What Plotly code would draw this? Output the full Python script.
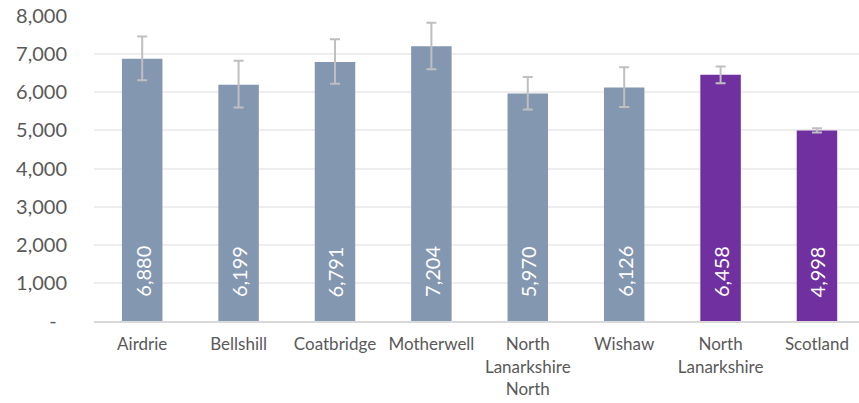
import plotly.graph_objects as go

categories = ["Airdrie", "Bellshill", "Coatbridge", "Motherwell",
              "North<br>Lanarkshire<br>North", "Wishaw", "North<br>Lanarkshire", "Scotland"]
values = [6880, 6199, 6791, 7204, 5970, 6126, 6458, 4998]
err_plus = [585, 630, 600, 620, 430, 530, 220, 55]
err_minus = [565, 600, 570, 600, 420, 510, 225, 55]
colors = ["#8497B0"] * 6 + ["#7030A0"] * 2
labels = [f"{v:,}" for v in values]
y_tickvals = [0, 1000, 2000, 3000, 4000, 5000, 6000, 7000, 8000]
y_ticktext = ["-&nbsp;&nbsp;", "1,000", "2,000", "3,000", "4,000", "5,000", "6,000", "7,000", "8,000"]

xs = list(range(len(categories)))

fig = go.Figure()
fig.add_trace(go.Bar(
    x=xs, y=values,
    marker=dict(color=colors, line=dict(width=0)),
    width=0.42,
    error_y=dict(type="data", symmetric=False, array=err_plus, arrayminus=err_minus,
                 color="#BFBFBF", thickness=2, width=5),
    hoverinfo="skip",
))

for x, lab in zip(xs, labels):
    fig.add_annotation(x=x, y=0, xref="x", yref="y", text=lab, textangle=-90,
                       showarrow=False, yanchor="bottom", yshift=22,
                       font=dict(family="Lato", size=20, color="white"))

fig.update_layout(
    width=859, height=403,
    margin=dict(l=94, r=0, t=16, b=82, autoexpand=False),
    plot_bgcolor="white", paper_bgcolor="white",
    showlegend=False,
    font=dict(family="Lato", color="#595959"),
)
fig.update_xaxes(
    range=[-0.5, 7.436], tickvals=xs, ticktext=categories,
    tickfont=dict(size=17, color="#595959"),
    showline=True, linecolor="#D9D9D9", linewidth=2,
    showgrid=False, ticks="", ticklabelstandoff=7, automargin=False,
)
fig.update_yaxes(
    range=[0, 8000], tickvals=y_tickvals, ticktext=y_ticktext,
    tickfont=dict(size=20, color="#595959"),
    showgrid=True, gridcolor="#EEEEEE", gridwidth=2,
    zeroline=False, showline=False, ticks="", ticklabelstandoff=26, automargin=False,
)

fig.write_html("out.html", config={"displayModeBar": False},
               post_script="document.body.style.margin='0';")
